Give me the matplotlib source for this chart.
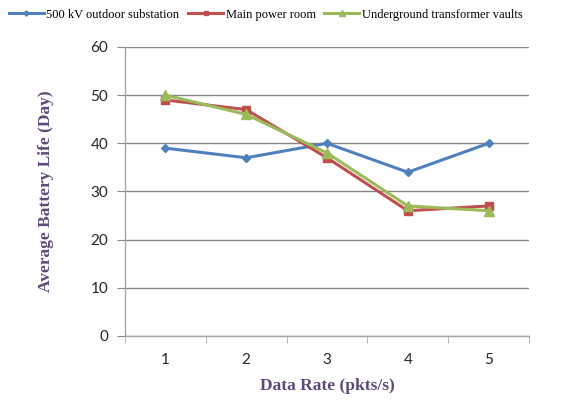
import matplotlib
matplotlib.use('Agg')
import matplotlib.pyplot as plt
from matplotlib.ticker import FixedLocator

# Average battery life vs. data rate for three deployment environments
rates = [1, 2, 3, 4, 5]
outdoor = [39, 37, 40, 34, 40]
power_room = [49, 47, 37, 26, 27]
vaults = [50, 46, 38, 27, 26]

fig = plt.figure(figsize=(5.62, 4.03), dpi=100)
ax = fig.add_axes([0.2224, 0.1663, 0.7189, 0.7171])

ax.plot(rates, outdoor, color='#4F81BD', lw=2.2, marker='D', ms=4.5,
        label='500 kV outdoor substation')
ax.plot(rates, power_room, color='#C0504D', lw=2.2, marker='s', ms=6,
        label='Main power room')
ax.plot(rates, vaults, color='#9BBB59', lw=2.2, marker='^', ms=7,
        label='Underground transformer vaults')

ax.set_xlim(0.5, 5.5)
ax.set_ylim(0, 60)
ax.set_yticks(range(0, 61, 10))
ax.set_xticks(rates)
ax.xaxis.set_minor_locator(FixedLocator([0.5, 1.5, 2.5, 3.5, 4.5, 5.5]))
ax.grid(axis='y', color='#868686', lw=1)
ax.set_axisbelow(True)

for s in ['top', 'right']:
    ax.spines[s].set_visible(False)
for s in ['left', 'bottom']:
    ax.spines[s].set_color('#A6A6A6')
    ax.spines[s].set_linewidth(1)

ax.tick_params(axis='y', length=6, color='#868686', labelsize=11,
               labelcolor='#262626', pad=6)
ax.tick_params(axis='x', which='major', length=0, labelsize=11,
               labelcolor='#262626', pad=12)
ax.tick_params(axis='x', which='minor', length=5, color='#A6A6A6')
for lbl in ax.get_xticklabels() + ax.get_yticklabels():
    lbl.set_family('Lato')

lab_font = dict(family='Liberation Serif', weight='bold', size=12.5,
                color='#5F497A')
ax.set_ylabel('Average Battery Life (Day)', labelpad=26, **lab_font)
ax.set_xlabel('Data Rate (pkts/s)', labelpad=8, **lab_font)

fig.legend(loc='upper left', bbox_to_anchor=(0.0, 1.0), ncol=3,
           frameon=False, prop={'family': 'Liberation Serif', 'size': 9},
           handlelength=2.8, handletextpad=0.2, columnspacing=0.7,
           borderaxespad=0.3, markerscale=0.6)

fig.savefig('out.png', dpi=100)
